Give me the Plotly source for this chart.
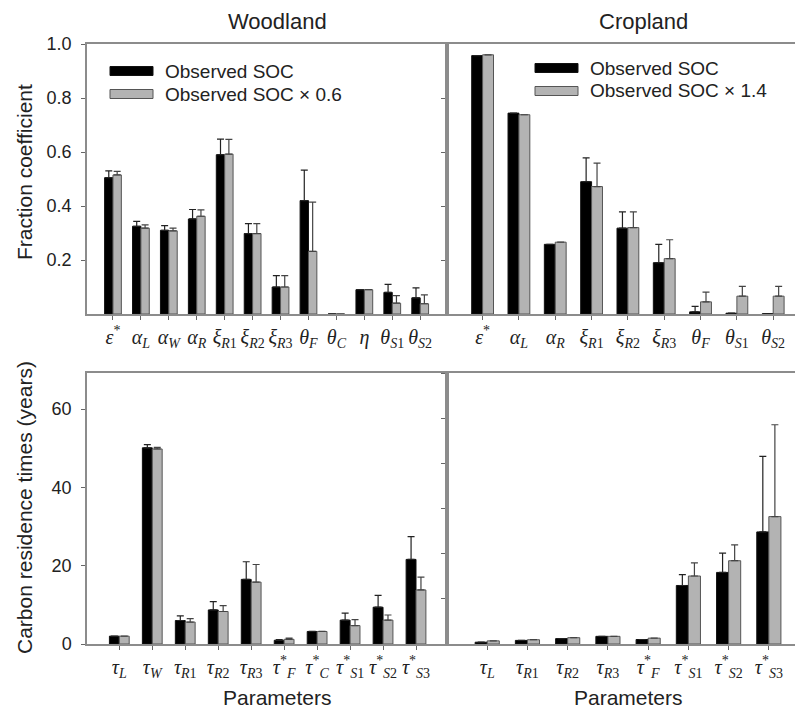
import plotly.graph_objects as go

W, H = 796, 718

# ---------------- data ----------------
top_left_labels = ["<i>ε</i><sup>*</sup>", "<i>α</i><sub><i>L</i></sub>", "<i>α</i><sub><i>W</i></sub>",
                   "<i>α</i><sub><i>R</i></sub>", "<i>ξ</i><sub><i>R</i>1</sub>", "<i>ξ</i><sub><i>R</i>2</sub>",
                   "<i>ξ</i><sub><i>R</i>3</sub>", "<i>θ</i><sub><i>F</i></sub>", "<i>θ</i><sub><i>C</i></sub>",
                   "<i>η</i>", "<i>θ</i><sub><i>S</i>1</sub>", "<i>θ</i><sub><i>S</i>2</sub>"]
tl_obs = [0.505, 0.325, 0.310, 0.352, 0.590, 0.298, 0.100, 0.420, 0.0, 0.090, 0.080, 0.060]
tl_obs_err = [0.025, 0.018, 0.017, 0.035, 0.058, 0.037, 0.042, 0.113, 0.0, 0.0, 0.030, 0.037]
tl_scl = [0.515, 0.318, 0.308, 0.362, 0.592, 0.298, 0.100, 0.232, 0.0, 0.090, 0.040, 0.038]
tl_scl_err = [0.013, 0.012, 0.010, 0.024, 0.055, 0.037, 0.042, 0.182, 0.0, 0.0, 0.028, 0.033]

top_right_labels = ["<i>ε</i><sup>*</sup>", "<i>α</i><sub><i>L</i></sub>", "<i>α</i><sub><i>R</i></sub>",
                    "<i>ξ</i><sub><i>R</i>1</sub>", "<i>ξ</i><sub><i>R</i>2</sub>", "<i>ξ</i><sub><i>R</i>3</sub>",
                    "<i>θ</i><sub><i>F</i></sub>", "<i>θ</i><sub><i>S</i>1</sub>", "<i>θ</i><sub><i>S</i>2</sub>"]
tr_obs = [0.957, 0.744, 0.258, 0.490, 0.318, 0.190, 0.008, 0.003, 0.001]
tr_obs_err = [0.0, 0.0, 0.0, 0.088, 0.060, 0.068, 0.020, 0.0, 0.0]
tr_scl = [0.960, 0.738, 0.266, 0.472, 0.320, 0.205, 0.045, 0.066, 0.066]
tr_scl_err = [0.0, 0.0, 0.0, 0.087, 0.058, 0.070, 0.036, 0.036, 0.036]

bot_left_labels = ["<i>τ</i><sub><i>L</i></sub>", "<i>τ</i><sub><i>W</i></sub>", "<i>τ</i><sub><i>R</i>1</sub>",
                   "<i>τ</i><sub><i>R</i>2</sub>", "<i>τ</i><sub><i>R</i>3</sub>", "<i>τ</i><sup>*</sup><sub><i>F</i></sub>",
                   "<i>τ</i><sup>*</sup><sub><i>C</i></sub>", "<i>τ</i><sup>*</sup><sub><i>S</i>1</sub>",
                   "<i>τ</i><sup>*</sup><sub><i>S</i>2</sub>", "<i>τ</i><sup>*</sup><sub><i>S</i>3</sub>"]
bl_obs = [2.0, 50.1, 6.0, 8.7, 16.5, 0.95, 3.2, 6.1, 9.4, 21.6]
bl_obs_err = [0.0, 0.8, 1.2, 2.1, 4.5, 0.2, 0.0, 1.8, 3.0, 5.8]
bl_scl = [2.0, 49.8, 5.6, 8.3, 15.8, 1.2, 3.2, 4.7, 6.1, 13.8]
bl_scl_err = [0.0, 0.4, 0.9, 1.5, 4.5, 0.3, 0.0, 1.5, 1.3, 3.3]

bot_right_labels = ["<i>τ</i><sub><i>L</i></sub>", "<i>τ</i><sub><i>R</i>1</sub>", "<i>τ</i><sub><i>R</i>2</sub>",
                    "<i>τ</i><sub><i>R</i>3</sub>", "<i>τ</i><sup>*</sup><sub><i>F</i></sub>",
                    "<i>τ</i><sup>*</sup><sub><i>S</i>1</sub>", "<i>τ</i><sup>*</sup><sub><i>S</i>2</sub>",
                    "<i>τ</i><sup>*</sup><sub><i>S</i>3</sub>"]
br_obs = [0.4, 0.8, 1.2, 1.7, 1.0, 13.0, 15.9, 24.9]
br_obs_err = [0.0, 0.0, 0.0, 0.0, 0.0, 2.4, 4.3, 16.8]
br_scl = [0.7, 0.95, 1.4, 1.7, 1.3, 15.1, 18.5, 28.3]
br_scl_err = [0.0, 0.0, 0.0, 0.0, 0.0, 2.9, 3.5, 20.4]

legend_left = ["Observed SOC", "Observed SOC × 0.6"]
legend_right = ["Observed SOC", "Observed SOC × 1.4"]

# ---------------- helpers ----------------
def px(x):
    return x / W

def py(y):
    return 1 - y / H

BLACK = "#000000"
GRAY = "#b3b3b3"
LINE = "#8c8c8c"
TXT = "#222222"
sans = "Liberation Sans"

fig = go.Figure()

def add_pair(labels, obs, obs_err, scl, scl_err, xa, ya):
    fig.add_trace(go.Bar(
        x=labels, y=obs, xaxis=xa, yaxis=ya, offsetgroup="a",
        marker=dict(color=BLACK, line=dict(color="#111111", width=1)),
        error_y=dict(type="data", symmetric=False, array=obs_err, arrayminus=[0] * len(obs),
                     color="#222222", thickness=1.2, width=3.5),
        showlegend=False))
    fig.add_trace(go.Bar(
        x=labels, y=scl, xaxis=xa, yaxis=ya, offsetgroup="b",
        marker=dict(color=GRAY, line=dict(color="#555555", width=1)),
        error_y=dict(type="data", symmetric=False, array=scl_err, arrayminus=[0] * len(scl),
                     color="#444444", thickness=1.2, width=3.5),
        showlegend=False))

add_pair(top_left_labels, tl_obs, tl_obs_err, tl_scl, tl_scl_err, "x", "y")
add_pair(top_right_labels, tr_obs, tr_obs_err, tr_scl, tr_scl_err, "x2", "y2")
add_pair(bot_left_labels, bl_obs, bl_obs_err, bl_scl, bl_scl_err, "x3", "y3")
add_pair(bot_right_labels, br_obs, br_obs_err, br_scl, br_scl_err, "x4", "y4")

xL = [px(87), px(447)]
xR = [px(447), px(795)]
yT = [py(314), py(44)]
yB = [py(644), py(373)]

xfont = dict(family="Liberation Serif", size=20, color=TXT)
yfont = dict(family=sans, size=18, color=TXT)

common_x = dict(showline=True, linecolor=LINE, linewidth=1.5, mirror=True, ticks="outside",
                ticklen=4, tickcolor="#666666", showgrid=False, zeroline=False,
                tickfont=xfont, type="category", fixedrange=True, automargin=False)
common_y = dict(showline=True, linecolor=LINE, linewidth=1.5, ticks="outside", ticklen=4,
                tickcolor="#666666", showgrid=False, zeroline=False, tickfont=yfont,
                ticklabelstandoff=6, fixedrange=True, automargin=False)

fig.update_layout(
    template="none",
    width=W, height=H,
    margin=dict(l=0, r=0, t=0, b=0, autoexpand=False),
    font=dict(family=sans, color=TXT),
    paper_bgcolor="white", plot_bgcolor="white",
    barmode="group", bargap=0.4, bargroupgap=0.0,
    showlegend=False,
    xaxis=dict(domain=xL, anchor="y", range=[-0.93, 11.96], **common_x),
    yaxis=dict(domain=yT, anchor="x", range=[0, 1.0], tickvals=[0.2, 0.4, 0.6, 0.8, 1.0],
               ticktext=["0.2", "0.4", "0.6", "0.8", "1.0"], mirror=True, **common_y),
    xaxis2=dict(domain=xR, anchor="y2", range=[-0.98, 8.6], **common_x),
    yaxis2=dict(domain=yT, anchor="x2", range=[0, 1.0], tickvals=[0.2, 0.4, 0.6, 0.8],
                showticklabels=False, mirror=False, **common_y),
    xaxis3=dict(domain=xL, anchor="y3", range=[-0.98, 9.94], **common_x),
    yaxis3=dict(domain=yB, anchor="x3", range=[0, 69.2], tickvals=[0, 20, 40, 60],
                mirror=True, **common_y),
    xaxis4=dict(domain=xR, anchor="y4", range=[-1.0, 7.65], **common_x),
    yaxis4=dict(domain=yB, anchor="x4", range=[0, 60.2], tickvals=[10, 20, 30, 40, 50, 60],
                showticklabels=False, mirror=False, **common_y),
)

ann = []
def text(t, x, y, size, angle=0, xanchor="center"):
    ann.append(dict(text=t, x=px(x), y=py(y), xref="paper", yref="paper", showarrow=False,
                    xanchor=xanchor, yanchor="middle", textangle=angle,
                    font=dict(family=sans, size=size, color=TXT)))

text("Woodland", 277, 22, 22)
text("Cropland", 643, 22, 22)
text("Fraction coefficient", 25, 172, 21, angle=-90)
text("Carbon residence times (years)", 24, 508, 21, angle=-90)
text("Parameters", 277, 697, 21)
text("Parameters", 628, 697, 21)

shapes = []
def legend(x0, names, ys):
    fills = [(BLACK, "#111111"), (GRAY, "#555555")]
    for (fc, lc), name, yc in zip(fills, names, ys):
        shapes.append(dict(type="rect", xref="paper", yref="paper",
                           x0=px(x0), x1=px(x0 + 43), y0=py(yc + 4.5), y1=py(yc - 4.5),
                           fillcolor=fc, line=dict(color=lc, width=1)))
        text(name, x0 + 53, yc, 19, xanchor="left")

legend(110, legend_left, [71, 94])
legend(535, legend_right, [68, 91])

fig.update_layout(annotations=ann, shapes=shapes)

fig.write_html("out.html")
